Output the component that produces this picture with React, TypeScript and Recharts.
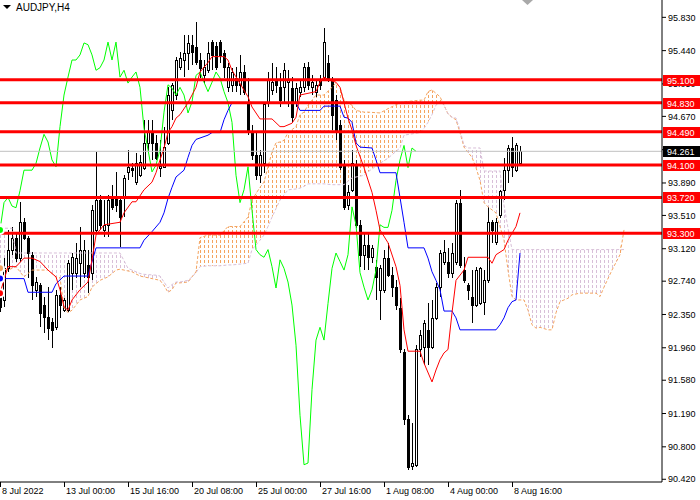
import React from 'react';
import { ComposedChart, Bar, Line, Area, XAxis, YAxis, ReferenceLine } from 'recharts';

const FONT = '"Liberation Sans", Arial, sans-serif';

// H4 bars, index on the time axis
const tickBars = [0, 16, 32, 48, 64, 80, 96, 112, 128];
const tickLabels = ['8 Jul 2022', '13 Jul 00:00', '15 Jul 16:00', '20 Jul 08:00', '25 Jul 00:00', '27 Jul 16:00', '1 Aug 08:00', '4 Aug 00:00', '8 Aug 16:00'];

const priceTicks = [95.83, 95.44, 95.05, 94.67, 94.28, 93.89, 93.51, 93.12, 92.74, 92.35, 91.96, 91.58, 91.19, 90.8, 90.42];

const levels = [95.1, 94.83, 94.49, 94.1, 93.72, 93.3];
const lastPrice = 94.261;

// [open, high, low, close]
const candles: [number, number, number, number][] = [
  [92.56, 92.64, 92.38, 92.44], [92.52, 93.01, 92.44, 92.89], [92.89, 93.34, 92.85, 93.11], [93.11, 93.38, 93.05, 93.25],
  [93.25, 93.32, 92.97, 93.01], [93.01, 93.67, 92.97, 93.43], [93.43, 93.48, 93.22, 93.25], [93.25, 93.27, 92.78, 93.07],
  [93.05, 93.08, 92.52, 92.70], [92.64, 92.79, 92.56, 92.73], [92.70, 92.72, 92.20, 92.37], [92.46, 92.56, 92.13, 92.32],
  [92.32, 92.67, 92.05, 92.19], [92.26, 92.31, 91.96, 92.17], [92.20, 92.64, 92.17, 92.58], [92.58, 92.67, 92.31, 92.46],
  [92.40, 92.54, 92.38, 92.52], [92.40, 92.99, 92.38, 92.95], [92.84, 93.07, 92.64, 93.02], [92.84, 93.19, 92.78, 93.01],
  [92.95, 93.38, 92.67, 93.11], [92.84, 93.22, 92.78, 93.11], [92.93, 93.11, 92.60, 92.79], [92.84, 93.63, 92.75, 93.57],
  [93.34, 94.25, 93.30, 93.69], [93.69, 93.75, 93.34, 93.40], [93.34, 93.69, 93.26, 93.40], [93.40, 93.75, 93.26, 93.69],
  [93.71, 93.87, 93.57, 93.61], [93.72, 94.02, 93.55, 93.63], [93.69, 93.72, 93.14, 93.49], [93.72, 93.98, 93.49, 93.95],
  [94.02, 94.28, 93.93, 94.08], [94.07, 94.12, 93.96, 94.04], [93.90, 94.24, 93.87, 94.12], [93.98, 94.22, 93.96, 94.14],
  [94.07, 94.63, 94.04, 94.36], [94.36, 94.63, 94.24, 94.49], [94.49, 94.63, 94.16, 94.36], [94.36, 94.45, 94.16, 94.18],
  [94.07, 94.39, 93.96, 94.09], [94.08, 94.55, 94.07, 94.31], [94.36, 95.01, 94.33, 94.92], [94.75, 95.06, 94.63, 95.04],
  [94.92, 95.37, 94.86, 95.33], [95.25, 95.42, 95.21, 95.35], [95.33, 95.62, 95.13, 95.41], [95.41, 95.62, 95.21, 95.53],
  [95.51, 95.62, 95.27, 95.42], [95.48, 95.78, 95.27, 95.31], [95.33, 95.41, 95.12, 95.24], [95.15, 95.33, 95.06, 95.25],
  [95.21, 95.54, 95.18, 95.41], [95.54, 95.57, 95.21, 95.39], [95.50, 95.54, 95.21, 95.25], [95.54, 95.56, 95.30, 95.39],
  [95.41, 95.45, 95.12, 95.25], [95.01, 95.30, 94.96, 95.25], [95.04, 95.24, 94.96, 95.19], [95.12, 95.25, 94.96, 95.04],
  [95.04, 95.39, 94.92, 95.19], [95.19, 95.27, 94.92, 94.96], [94.84, 95.12, 94.45, 94.51], [94.49, 94.57, 94.16, 94.22],
  [94.22, 94.48, 93.93, 93.98], [93.98, 94.28, 93.89, 94.22], [94.12, 94.83, 94.01, 94.82], [94.83, 95.19, 94.78, 95.10],
  [94.98, 95.30, 94.92, 95.07], [95.10, 95.25, 94.94, 95.04], [95.01, 95.18, 94.78, 94.86], [95.01, 95.30, 94.83, 95.21],
  [95.07, 95.21, 94.78, 95.10], [95.00, 95.13, 94.59, 94.66], [94.84, 95.06, 94.78, 95.00], [94.96, 95.10, 94.90, 95.01],
  [95.01, 95.30, 94.96, 95.25], [95.25, 95.31, 94.98, 95.04], [95.01, 95.15, 94.92, 95.07], [94.96, 95.10, 94.90, 95.04],
  [95.10, 95.15, 94.98, 95.04], [95.13, 95.71, 95.10, 95.54], [95.30, 95.39, 95.07, 95.12], [95.10, 95.13, 94.51, 94.69],
  [94.86, 94.92, 94.39, 94.51], [94.57, 94.63, 94.04, 94.08], [94.10, 94.16, 93.57, 93.61], [93.63, 93.87, 93.57, 93.78],
  [93.81, 94.28, 93.78, 94.12], [94.10, 94.16, 93.36, 93.40], [93.40, 93.46, 92.91, 93.05], [93.05, 93.30, 92.87, 93.16],
  [93.16, 93.30, 92.87, 93.02], [93.02, 93.16, 92.95, 93.13], [92.91, 92.99, 92.52, 92.79], [92.64, 92.93, 92.29, 92.89],
  [92.64, 93.11, 92.60, 93.01], [93.01, 93.19, 92.79, 92.81], [92.81, 92.91, 92.56, 92.67], [92.67, 92.75, 92.40, 92.46],
  [92.43, 92.54, 91.90, 91.94], [91.91, 91.94, 91.06, 91.12], [91.12, 91.17, 90.53, 90.56], [90.58, 91.08, 90.53, 90.61],
  [90.59, 91.99, 90.56, 91.94], [91.94, 92.17, 91.85, 92.11], [91.97, 92.29, 91.76, 92.25], [92.17, 92.48, 91.76, 91.97],
  [91.97, 92.52, 91.94, 92.31], [92.31, 92.72, 92.29, 92.67], [92.67, 93.11, 92.56, 93.07], [92.97, 93.22, 92.93, 93.08],
  [92.97, 93.13, 92.78, 92.84], [92.84, 93.19, 92.78, 93.07], [92.97, 93.69, 92.93, 93.66], [93.66, 93.81, 92.89, 92.93],
  [92.87, 93.02, 92.72, 92.75], [92.70, 92.72, 92.52, 92.64], [92.56, 92.87, 92.25, 92.46], [92.46, 92.91, 92.44, 92.87],
  [92.48, 92.91, 92.46, 92.89], [92.50, 92.87, 92.34, 92.75], [92.75, 93.61, 92.72, 93.43], [93.43, 93.46, 93.19, 93.34],
  [93.20, 93.48, 93.16, 93.43], [93.52, 93.81, 93.48, 93.80], [93.81, 94.18, 93.69, 94.04], [94.04, 94.33, 93.89, 94.30],
  [94.30, 94.43, 93.96, 94.08], [94.04, 94.36, 94.02, 94.33], [94.12, 94.32, 94.10, 94.26],
];

// [bar, value] vertices
const tenkan: [number, number][] = [
  [0, 92.60], [2, 92.91], [4, 92.91], [6, 93.01], [8, 93.01], [10, 92.97], [12, 92.87], [14, 92.79], [15, 92.64],
  [16, 92.44], [17, 92.40], [18, 92.52], [20, 92.64], [22, 92.73], [23, 92.99], [24, 93.28], [26, 93.40], [30, 93.43],
  [31, 93.54], [33, 93.67], [34, 93.67], [36, 93.81], [38, 93.90], [39, 94.01], [40, 94.16], [41, 94.30], [42, 94.48],
  [43, 94.55], [44, 94.65], [45, 94.69], [47, 94.83], [49, 95.01], [50, 95.19], [52, 95.30], [53, 95.37], [56, 95.37],
  [57, 95.33], [58, 95.21], [62, 94.90], [63, 94.78], [65, 94.64], [68, 94.64], [70, 94.55], [71, 94.55], [73, 94.59],
  [74, 94.66], [75, 94.92], [77, 94.94], [79, 94.96], [80, 95.07], [81, 95.13], [82, 95.10], [84, 95.07], [85, 95.01],
  [86, 94.83], [87, 94.65], [88, 94.51], [89, 94.33], [91, 94.07], [93, 93.78], [94, 93.57], [95, 93.34], [97, 93.19],
  [99, 92.91], [100, 92.69], [101, 92.17], [102, 91.92], [105, 91.92], [106, 91.78], [108, 91.56], [109, 91.70],
  [110, 91.82], [111, 91.90], [112, 91.94], [113, 92.37], [114, 92.75], [116, 92.87], [117, 93.02], [122, 93.02],
  [123, 92.95], [124, 93.05], [126, 93.11], [127, 93.22], [128, 93.30], [129, 93.38], [130, 93.54],
];

const kijun: [number, number][] = [
  [0, 92.77], [6, 92.77], [7, 92.61], [13, 92.61], [14, 92.71], [16, 92.80], [22, 92.80], [24, 93.13], [35, 93.13],
  [36, 93.22], [38, 93.32], [40, 93.43], [41, 93.54], [42, 93.71], [43, 93.84], [44, 93.96], [46, 94.04], [47, 94.19],
  [48, 94.33], [49, 94.40], [52, 94.45], [53, 94.48], [55, 94.48], [56, 94.63], [57, 94.74], [58, 94.83], [74, 94.83],
  [75, 94.74], [80, 94.74], [81, 94.79], [85, 94.79], [86, 94.66], [87, 94.65], [88, 94.60], [89, 94.36], [90, 94.31],
  [93, 94.30], [94, 94.16], [95, 94.01], [99, 94.01], [100, 93.72], [101, 93.43], [102, 93.13], [106, 93.13],
  [107, 93.01], [108, 92.85], [109, 92.75], [110, 92.64], [111, 92.39], [113, 92.39], [114, 92.31], [115, 92.17],
  [124, 92.17], [125, 92.23], [126, 92.31], [127, 92.43], [128, 92.50], [129, 92.52], [130, 93.07],
];

// lagging line, one value per bar from bar 0
const chikou = [
  93.34, 93.66, 93.72, 93.62, 93.60, 93.80, 94.04, 94.04, 94.04, 94.12, 94.30, 94.46, 94.37, 94.16, 94.08, 94.55,
  94.92, 95.13, 95.33, 95.33, 95.39, 95.53, 95.51, 95.39, 95.21, 95.24, 95.33, 95.54, 95.33, 95.54, 95.13, 95.21,
  95.06, 95.13, 95.19, 95.01, 94.53, 94.28, 94.02, 94.10, 94.28, 94.72, 95.04, 95.00, 94.92, 95.01, 94.92, 94.71,
  94.84, 95.15, 95.19, 95.07, 94.96, 95.07, 95.19, 95.12, 94.96, 94.83, 94.60, 93.98, 93.66, 93.81, 94.08, 93.57,
  93.11, 93.05, 93.02, 93.11, 92.91, 92.66, 92.99, 92.89, 92.73, 92.46, 91.99, 91.17, 90.59, 90.61, 91.47, 92.05,
  92.20, 92.05, 92.48, 92.89, 93.07, 92.97, 92.87, 93.05, 93.61, 93.40, 92.84, 92.67, 92.52, 92.64, 92.87, 93.40,
  93.37, 93.37, 93.57, 93.92, 94.16, 94.33, 94.07, 94.30, 94.26,
];

// cloud: bar, senkou span A, senkou span B
const cloudBars = [
  0, 2, 3, 4, 6, 8, 12, 14, 15, 16, 17, 18, 20, 22, 23, 25, 27, 29, 30, 32, 33, 35, 36, 39, 40, 41, 42, 43, 44, 45,
  47, 48, 49, 50, 52, 55, 57, 58, 60, 62, 63, 65, 66, 67, 68, 69, 70, 71, 72, 74, 75, 76, 77, 78, 79, 81, 83, 84,
  85, 86, 88, 89, 91, 92, 95, 97, 100, 101, 105, 106, 107, 108, 109, 110, 111, 112, 113, 114, 115, 116, 117, 118,
  119, 120, 121, 122, 124, 125, 126, 127, 128, 129, 131, 132, 133, 134, 135, 137, 138, 139, 140, 142, 143, 145,
  149, 150, 151, 153, 155, 156,
];
const spanA = [
  92.89, 92.87, 92.89, 92.91, 92.79, 92.87, 92.87, 92.79, 92.78, 92.43, 92.37, 92.40, 92.52, 92.56, 92.67, 92.75,
  92.79, 92.87, 92.88, 92.86, 92.85, 92.80, 92.79, 92.76, 92.75, 92.69, 92.61, 92.64, 92.72, 92.72, 92.73, 92.79,
  92.85, 93.25, 93.28, 93.28, 93.38, 93.38, 93.38, 93.49, 93.69, 93.84, 93.90, 94.08, 94.25, 94.36, 94.37, 94.39,
  94.48, 94.55, 94.69, 94.72, 94.80, 94.86, 94.92, 94.92, 95.01, 95.06, 95.01, 94.86, 94.80, 94.74, 94.72, 94.72,
  94.71, 94.76, 94.83, 94.84, 94.86, 94.86, 94.96, 94.98, 94.94, 94.90, 94.80, 94.70, 94.66, 94.63, 94.48, 94.31,
  94.25, 94.19, 94.07, 93.92, 93.66, 93.61, 93.54, 93.38, 93.22, 92.87, 92.56, 92.52, 92.52, 92.40, 92.23, 92.19,
  92.20, 92.17, 92.17, 92.37, 92.50, 92.54, 92.58, 92.60, 92.60, 92.56, 92.67, 92.87, 93.05, 93.34,
];
const spanB = [
  93.36, 93.36, 93.36, 93.07, 93.07, 93.07, 93.07, 93.07, 93.07, 93.07, 93.07, 93.07, 93.07, 93.07, 93.07, 93.07,
  93.07, 93.07, 93.07, 92.89, 92.87, 92.83, 92.82, 92.81, 92.80, 92.73, 92.66, 92.70, 92.73, 92.73, 92.75, 92.79,
  92.84, 92.91, 92.92, 92.92, 92.93, 92.93, 92.94, 92.95, 93.11, 93.22, 93.28, 93.38, 93.49, 93.59, 93.69, 93.75,
  93.81, 93.82, 93.83, 93.85, 93.88, 93.88, 93.88, 93.88, 93.87, 93.87, 93.87, 93.87, 93.95, 93.96, 93.98, 94.02,
  94.12, 94.18, 94.30, 94.45, 94.48, 94.53, 94.60, 94.69, 94.80, 94.85, 94.80, 94.70, 94.66, 94.65, 94.51, 94.33,
  94.30, 94.30, 94.30, 94.30, 94.03, 94.03, 94.03, 94.03, 93.63, 93.36, 93.11, 93.11, 93.11, 93.11, 93.11, 93.11,
  93.11, 93.11, 93.11, 93.11, 93.11, 93.11, 93.11, 93.11, 93.11, 93.11, 93.11, 93.11, 93.11, 93.11,
];

// which span is on top in each stretch of the cloud
const cloudParts: { from: number; to: number; up: boolean }[] = [
  { from: 0, to: 48, up: false },
  { from: 48, to: 111, up: true },
  { from: 111, to: 155, up: false },
  { from: 155, to: 156, up: true },
];

const BARS = 166;

const rows = Array.from({ length: BARS }, (_, i) => {
  const row: any = { i };
  const k = candles[i];
  if (k) {
    row.o = k[0]; row.h = k[1]; row.l = k[2]; row.c = k[3];
    row.range = [k[2], k[1]];
  }
  if (i < chikou.length) row.chikou = chikou[i];
  return row;
});
tenkan.forEach(([i, v]) => { rows[i].tenkan = v; });
kijun.forEach(([i, v]) => { rows[i].kijun = v; });
cloudBars.forEach((i, n) => {
  const a = spanA[n];
  const b = spanB[n];
  rows[i].a = a;
  rows[i].b = b;
  cloudParts.forEach((p, j) => {
    if (i >= p.from && i <= p.to) rows[i]['part' + j] = [Math.min(a, b), Math.max(a, b)];
  });
});

const Candle = (props: any) => {
  const { x, y, width, height, payload } = props;
  if (!payload || payload.o == null) return null;
  const top = Math.min(y, y + height);
  const bottom = Math.max(y, y + height);
  const { o, h, l, c } = payload;
  const span = h - l || 1;
  const py = (p: number) => Math.round(top + ((h - p) / span) * (bottom - top));
  const cx = Math.round(x + width / 2);
  const bt = Math.min(py(o), py(c));
  const bb = Math.max(py(o), py(c));
  return (
    <g>
      <rect x={cx} y={Math.round(top)} width={1} height={Math.max(1, Math.round(bottom) - Math.round(top))} fill="#000" />
      <rect x={cx - 1} y={bt} width={3} height={Math.max(1, bb - bt + 1)} fill="#000" />
      {c > o && bb - bt > 1 && <rect x={cx} y={bt + 1} width={1} height={bb - bt - 1} fill="#fff" />}
    </g>
  );
};

const TimeTick = (props: any) => {
  const { x, y, payload } = props;
  const k = tickBars.indexOf(payload.value);
  if (k < 0) return null;
  const px = Math.round(x);
  return (
    <g>
      <rect x={px} y={y} width={1} height={5} fill="#000" />
      <text x={px + 2} y={y + 12} fontSize={9} fontFamily={FONT} fill="#000">{tickLabels[k]}</text>
    </g>
  );
};

// price tags sit on their own axis so they are drawn over the scale numbers
const TagTick = (props: any) => {
  const { x, y, payload } = props;
  const v = payload.value;
  const yc = Math.round(y);
  const x0 = Math.round(x) - 37;
  return (
    <g>
      <rect x={x0} y={yc - 5} width={37} height={11} fill={v === lastPrice ? '#000' : '#FF0000'} />
      <text x={x0 + 4} y={yc + 4} fontSize={9} fontFamily={FONT} fill="#fff">{v.toFixed(3)}</text>
    </g>
  );
};

export default function App() {
  return (
    <div style={{ position: 'relative', width: 700, height: 500, background: '#fff' }}>
      <style>{'body{margin:0}'}</style>
      <ComposedChart width={700} height={500} data={rows} margin={{ top: 0, right: -1, bottom: 0, left: -2 }} barCategoryGap={0}>
        <defs>
          <pattern id="hatchSand" width="4" height="5" patternUnits="userSpaceOnUse">
            <rect x="0" y="0" width="1" height="3" fill="#F4A460" />
          </pattern>
          <pattern id="hatchThistle" width="4" height="5" patternUnits="userSpaceOnUse">
            <rect x="0" y="0" width="1" height="3" fill="#D8BFD8" />
          </pattern>
        </defs>
        <XAxis
          dataKey="i"
          interval={15}
          height={18}
          tickSize={0}
          tickMargin={0}
          tickLine={false}
          axisLine={{ stroke: '#000' }}
          tick={<TimeTick />}
        />
        <YAxis
          orientation="right"
          width={38}
          domain={[90.388, 96.033]}
          allowDataOverflow
          ticks={priceTicks}
          interval={0}
          tickSize={4}
          tickMargin={2}
          tickFormatter={(v: number) => v.toFixed(3)}
          tick={{ fontSize: 9, fontFamily: FONT, fill: '#000' }}
          axisLine={{ stroke: '#000' }}
          tickLine={{ stroke: '#000' }}
        />
        <YAxis
          yAxisId="tags"
          orientation="right"
          width={1}
          domain={[90.388, 96.033]}
          allowDataOverflow
          ticks={[...levels, lastPrice]}
          interval={0}
          tickSize={0}
          tickMargin={0}
          axisLine={false}
          tickLine={false}
          tick={<TagTick />}
        />
        <Bar dataKey="range" shape={<Candle />} isAnimationActive={false} />
        {cloudParts.map((p, j) => (
          <Area
            key={j}
            dataKey={'part' + j}
            type="linear"
            stroke="none"
            fill={p.up ? 'url(#hatchSand)' : 'url(#hatchThistle)'}
            fillOpacity={1}
            connectNulls
            dot={false}
            activeDot={false}
            isAnimationActive={false}
          />
        ))}
        <Line dataKey="a" type="linear" stroke="#F4A460" strokeWidth={1} strokeDasharray="3 2" dot={false} connectNulls isAnimationActive={false} />
        <Line dataKey="b" type="linear" stroke="#D8BFD8" strokeWidth={1} strokeDasharray="3 2" dot={false} connectNulls isAnimationActive={false} />
        <Line dataKey="chikou" type="linear" stroke="#00FF00" strokeWidth={1} dot={false} connectNulls isAnimationActive={false} />
        <Line dataKey="kijun" type="linear" stroke="#0000FF" strokeWidth={1} dot={false} connectNulls isAnimationActive={false} />
        <Line dataKey="tenkan" type="linear" stroke="#FF0000" strokeWidth={1} dot={false} connectNulls isAnimationActive={false} />
        <ReferenceLine y={lastPrice} stroke="#C0C0C0" strokeWidth={1} />
        {levels.map((v) => (
          <ReferenceLine key={v} y={v} stroke="#FF0000" strokeWidth={3} />
        ))}
      </ComposedChart>
      <div style={{ position: 'absolute', left: 3, top: 2, display: 'flex', alignItems: 'center', fontFamily: FONT, fontSize: 10, color: '#000' }}>
        <svg width={9} height={6} style={{ marginRight: 4 }}>
          <polygon points="0,0 8,0 4,4" fill="#000" />
        </svg>
        <span>AUDJPY,H4</span>
      </div>
      <svg width={12} height={6} style={{ position: 'absolute', left: 522, top: 0 }}>
        <polygon points="0,0 11,0 5.5,5" fill="#A9A9A9" />
      </svg>
    </div>
  );
}
